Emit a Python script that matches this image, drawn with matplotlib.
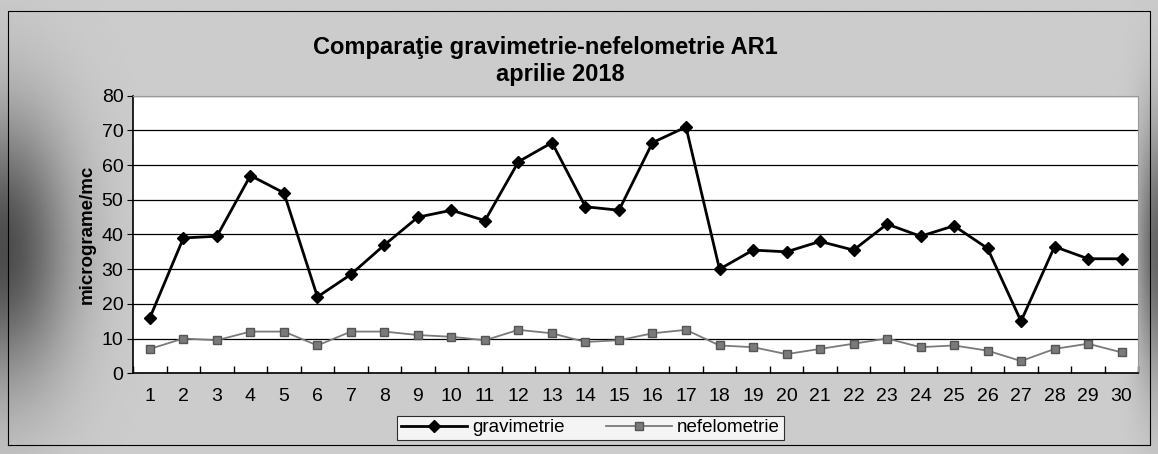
import matplotlib.pyplot as plt
import numpy as np

plt.rcParams['font.family'] = ['Liberation Sans', 'DejaVu Sans']

zile = list(range(1, 31))
gravimetrie = [16, 39, 39.5, 57, 52, 22, 28.5, 37, 45, 47, 44, 61, 66.5, 48, 47,
               66.5, 71, 30, 35.5, 35, 38, 35.5, 43, 39.5, 42.5, 36, 15, 36.5, 33, 33]
nefelometrie = [7, 10, 9.5, 12, 12, 8, 12, 12, 11, 10.5, 9.5, 12.5, 11.5, 9, 9.5,
                11.5, 12.5, 8, 7.5, 5.5, 7, 8.5, 10, 7.5, 8, 6.5, 3.5, 7, 8.5, 6]
y_ticks = [0, 10, 20, 30, 40, 50, 60, 70, 80]

fig = plt.figure(figsize=(11.58, 4.54), dpi=100)
fig.patch.set_facecolor('#c6c6c6')

# background with darker edges
bg = fig.add_axes([0, 0, 1, 1], zorder=0)
xx = np.linspace(0, 1, 400)
yy = np.linspace(0, 1, 160)
X, Y = np.meshgrid(xx, yy)
shade = 0.80 - 0.50 * np.exp(-((X - 0.0) / 0.06) ** 2 - ((Y - 0.55) / 0.30) ** 2) \
        - 0.40 * np.exp(-((X - 1.0) / 0.018) ** 2 - ((Y - 0.55) / 0.28) ** 2)
bg.imshow(shade, cmap='gray', vmin=0, vmax=1, aspect='auto', extent=[0, 1, 0, 1])
bg.plot([0.007, 0.993, 0.993, 0.007, 0.007], [0.02, 0.02, 0.975, 0.975, 0.02],
        color='black', lw=0.8)
bg.set_xlim(0, 1)
bg.set_ylim(0, 1)
bg.axis('off')

ax = fig.add_axes([0.115, 0.178, 0.868, 0.611], zorder=1)
ax.set_facecolor('white')

ax.plot(zile, gravimetrie, color='black', lw=2, marker='D', markersize=6,
        label='gravimetrie', zorder=3)
ax.plot(zile, nefelometrie, color='#7a7a7a', lw=1.3, marker='s', markersize=6,
        markerfacecolor='#7a7a7a', markeredgecolor='#555555', label='nefelometrie', zorder=3)

ax.set_xlim(0.5, 30.5)
ax.set_ylim(0, 80)
ax.set_yticks(y_ticks)
ax.yaxis.grid(True, color='black', lw=0.9)
ax.set_axisbelow(True)
ax.set_xticks(zile)
ax.set_xticks(np.arange(0.5, 31, 1), minor=True)
ax.tick_params(axis='x', which='major', length=0, pad=11, labelsize=14)
ax.tick_params(axis='x', which='minor', length=5, direction='in', width=1)
ax.tick_params(axis='y', length=4, direction='out', labelsize=14, pad=3)

for s in ['top', 'right']:
    ax.spines[s].set_color('#999999')
for s in ['left', 'bottom']:
    ax.spines[s].set_color('black')
    ax.spines[s].set_linewidth(1.2)

ax.set_ylabel('micrograme/mc', fontsize=13.5, fontweight='bold', labelpad=4)

fig.text(0.471, 0.896, 'Comparaţie gravimetrie-nefelometrie AR1',
         ha='center', va='center', fontsize=17, fontweight='bold')
fig.text(0.484, 0.835, 'aprilie 2018',
         ha='center', va='center', fontsize=17, fontweight='bold')

leg = ax.legend(loc='center', bbox_to_anchor=(0.51, 0.0575), bbox_transform=fig.transFigure,
                ncol=2, frameon=True, fancybox=False, edgecolor='black', fontsize=13.5,
                handlelength=3.5, columnspacing=2.2, borderpad=0.2, handletextpad=0.3)
leg.get_frame().set_linewidth(0.8)

fig.savefig('out.png', dpi=100, facecolor=fig.get_facecolor())
